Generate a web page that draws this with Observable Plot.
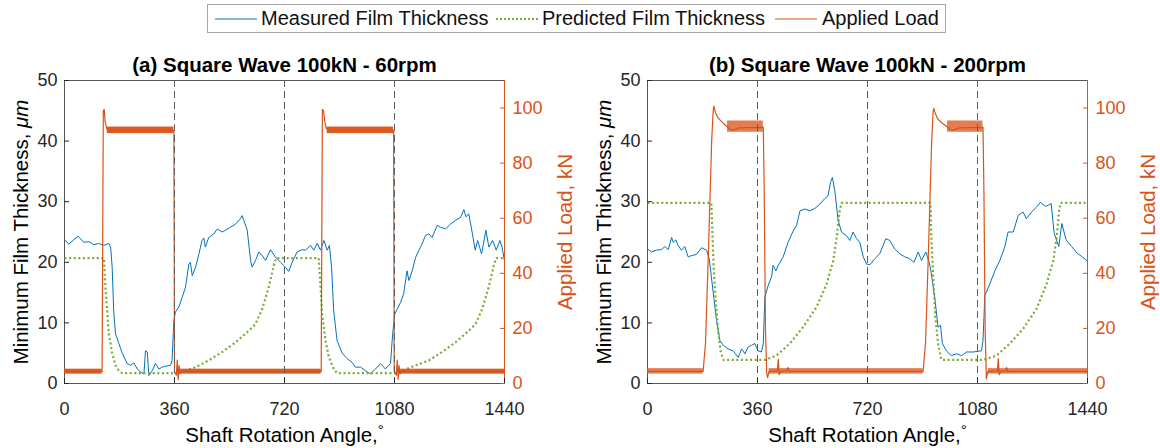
<!DOCTYPE html>
<html><head><meta charset="utf-8">
<script src="https://cdn.jsdelivr.net/npm/d3@7"></script>
<script src="https://cdn.jsdelivr.net/npm/@observablehq/plot@0.6"></script>
<style>
body{margin:0;background:#fff;}
#wrap{position:relative;width:1160px;height:448px;overflow:hidden;font-family:"Liberation Sans",Arial,Helvetica,sans-serif;background:#fff;}
.panel{position:absolute;top:0;}
#legend{position:absolute;left:207px;top:4px;width:737px;height:27px;border:1px solid #a6a6a6;background:#fff;z-index:2;font-size:20px;color:#111;}
#legend .it{position:absolute;top:0;height:27px;line-height:27px;white-space:nowrap;}
#legend svg{position:absolute;top:9px;}
</style></head><body>
<div id="wrap"><div id="legend"></div><div id="pa" class="panel" style="left:0"></div><div id="pb" class="panel" style="left:580px"></div></div>
<script>
// ---------- data ----------
const xTicks = [0, 360, 720, 1080, 1440];
const yTicks = [0, 10, 20, 30, 40, 50];
const loadTicks = [0, 20, 40, 60, 80, 100];
const dashedAngles = [360, 720, 1080];
const seriesNames = ["Measured Film Thickness", "Predicted Film Thickness", "Applied Load"];
const titles = ["(a) Square Wave 100kN - 60rpm", "(b) Square Wave 100kN - 200rpm"];

// panel (a): [angle (deg), film thickness (um)]
const measuredA = [[0,23.7],[14,23.0],[30,23.7],[45,24.3],[63,23.3],[80,23.4],[96,22.9],[112,23.1],[129,22.8],[145,23.1],[151,22.5],[156,19.2],[161,12.0],[167,8.2],[178,6.6],[189,5.0],[205,3.3],[216,3.0],[227,3.4],[238,2.4],[249,1.9],[260,1.6],[265,5.4],[271,5.2],[276,1.3],[287,2.1],[298,3.3],[309,2.4],[325,2.8],[347,3.0],[352,3.8],[358,10.4],[363,11.8],[374,12.6],[385,14.2],[396,15.9],[407,19.7],[412,20.0],[418,17.8],[429,19.2],[440,21.4],[450,23.6],[456,24.0],[461,22.5],[472,24.1],[489,24.7],[500,25.5],[516,25.0],[527,25.3],[543,25.8],[560,26.3],[576,27.2],[581,27.7],[587,26.9],[598,25.3],[609,20.3],[614,19.2],[625,20.3],[636,21.7],[647,21.1],[658,20.3],[674,22.1],[690,20.9],[707,20.0],[723,19.2],[734,18.5],[745,20.0],[761,21.7],[778,22.1],[789,22.0],[805,22.8],[816,22.0],[827,23.1],[838,22.0],[849,23.6],[860,22.0],[867,22.8],[874,19.2],[881,12.0],[892,7.1],[909,5.0],[925,4.1],[941,3.5],[952,2.7],[969,2.7],[985,2.1],[1001,1.6],[1018,2.4],[1034,3.3],[1050,2.4],[1067,3.3],[1074,8.2],[1081,11.5],[1089,12.3],[1100,13.4],[1110,14.8],[1121,18.6],[1127,17.0],[1138,18.6],[1149,20.8],[1160,22.0],[1170,23.0],[1181,24.4],[1192,24.7],[1203,24.1],[1220,26.1],[1230,25.8],[1247,25.5],[1263,26.3],[1279,26.9],[1296,27.4],[1307,28.7],[1314,27.5],[1323,28.0],[1335,24.7],[1344,22.0],[1352,23.6],[1365,21.4],[1379,25.3],[1389,22.5],[1401,23.6],[1413,22.0],[1425,23.6],[1432,22.5],[1440,20.2]];
const predictedA = [[0,20.7],[129,20.7],[134,15.9],[140,11.5],[145,8.2],[156,5.0],[167,3.0],[178,2.1],[189,1.7],[360,1.7],[385,1.9],[429,2.7],[472,3.8],[516,5.2],[560,6.8],[603,8.7],[625,9.8],[647,12.3],[669,16.0],[685,19.5],[693,20.7],[832,20.7],[838,15.9],[843,11.5],[854,7.1],[865,4.4],[881,2.4],[892,1.7],[1080,1.7],[1105,2.1],[1149,3.0],[1192,3.8],[1236,5.2],[1280,6.8],[1323,8.7],[1345,9.8],[1367,12.3],[1389,16.0],[1405,19.5],[1413,20.7],[1440,20.7]];
// [angle, load (kN)] mean trace and noise envelopes [from, to, low, high]
const loadA = [[0,4.3],[123,4.3],[127,99],[130,99.5],[133,95],[138,92.5],[145,91.9],[358,91.9],[360,4.3],[366,3],[369,8.5],[372,1.5],[375,6.5],[378,3.5],[382,4.3],[840,4.3],[844,99.5],[848,99],[852,95],[857,92.5],[864,91.9],[1077,91.9],[1079,4.3],[1086,3],[1089,8.5],[1092,1.5],[1095,6.5],[1098,3.5],[1102,4.3],[1440,4.3]];
const loadBandsA = [[0,123,3.4,5.2],[380,840,3.4,5.2],[1100,1440,3.4,5.2],[140,358,90.7,93.1],[860,1077,90.7,93.1]];

// panel (b)
const measuredB = [[0,22.2],[13,21.7],[29,22.0],[46,22.1],[57,22.6],[68,22.1],[79,24.1],[84,23.3],[93,23.7],[100,22.8],[111,22.0],[122,22.6],[133,20.9],[144,21.1],[160,21.3],[177,22.4],[193,22.0],[202,20.6],[209,17.6],[217,14.2],[226,10.4],[237,7.1],[248,6.3],[264,5.7],[280,5.4],[297,4.3],[308,5.7],[319,4.9],[329,6.0],[340,6.3],[351,6.6],[362,5.4],[373,5.2],[379,6.6],[384,14.2],[395,16.2],[406,17.6],[411,19.5],[420,18.6],[428,19.5],[444,20.9],[460,23.3],[477,25.2],[488,26.1],[499,28.5],[515,28.8],[531,28.5],[548,28.9],[564,29.6],[580,30.5],[591,31.0],[599,33.2],[605,34.0],[613,31.8],[624,26.9],[635,25.0],[651,24.4],[662,23.6],[673,25.0],[684,23.9],[695,23.3],[706,20.9],[717,19.7],[728,19.6],[744,20.6],[760,21.4],[780,23.9],[793,23.6],[809,22.2],[826,21.4],[842,20.9],[858,20.6],[872,20.0],[886,21.7],[897,20.3],[911,21.7],[922,20.0],[929,18.1],[940,14.2],[951,9.3],[959,9.6],[965,6.6],[978,5.4],[995,4.6],[1011,4.9],[1028,4.6],[1044,5.2],[1066,5.2],[1093,5.4],[1098,7.1],[1104,14.5],[1120,16.4],[1137,18.6],[1153,20.3],[1169,22.5],[1180,25.0],[1197,25.0],[1213,27.7],[1229,28.3],[1240,27.2],[1257,28.3],[1273,29.1],[1286,29.9],[1303,29.2],[1321,29.7],[1331,24.8],[1346,22.6],[1356,26.4],[1370,23.7],[1388,22.6],[1406,21.5],[1420,21.0],[1440,20.2]];
const predictedB = [[0,29.8],[209,29.8],[213,24.1],[217,18.6],[224,13.1],[231,8.7],[239,5.4],[248,3.9],[384,3.9],[422,4.6],[466,6.6],[509,9.3],[553,12.6],[586,16.4],[608,20.3],[619,24.1],[629,28.5],[635,29.8],[926,29.8],[929,24.1],[935,17.6],[942,11.0],[951,6.6],[962,3.9],[1100,3.9],[1142,4.6],[1186,6.6],[1229,9.0],[1273,12.3],[1306,16.4],[1328,20.3],[1339,24.1],[1347,28.5],[1352,29.8],[1440,29.8]];
const loadB = [[0,4.4],[182,4.4],[190,15],[200,50],[210,88],[215,99],[217,100.7],[222,98.5],[230,96.5],[245,94.8],[259,93.4],[270,92.3],[280,92],[300,92.8],[379,93],[382,70],[386,20],[390,4],[393,2.1],[398,4.5],[403,4.4],[425,4.6],[428,8.8],[431,3.2],[436,4.4],[456,4.6],[460,5.8],[464,4.2],[470,4.4],[902,4.4],[910,15],[920,50],[930,88],[935,99],[937,99.9],[942,98],[950,96],[965,94.5],[979,93.3],[990,92.3],[1000,92],[1020,92.8],[1098,93],[1101,70],[1105,20],[1109,1.7],[1114,4.5],[1118,4.4],[1145,4.6],[1148,9],[1151,3.2],[1156,4.4],[1172,4.6],[1175,5.8],[1179,4.2],[1185,4.4],[1440,4.4]];
const loadBandsB = [[0,182,3.4,5.4],[398,902,3.4,5.4],[1116,1440,3.4,5.4],[262,379,91.2,95.3],[982,1098,91.2,95.3]];

// ---------- styling ----------
const blue = "#0072BD", green = "#77AC30", orange = "#D95319", ink = "#262626";
const K = 50 / 110; // left-axis units per kN (right axis 0..110 kN)
const FONT = '"Liberation Sans", Arial, Helvetica, sans-serif';
const yLabel = "Minimum Film Thickness, μm", rLabel = "Applied Load, kN", xLabel = "Shaft Rotation Angle,°";

function panel(title, measured, predicted, load, bands, mL, mR, bandOpacity) {
  const loadPts = load.map(([a, v]) => ({a, v: v * K}));
  const bandPts = bands.map(([a1, a2, lo, hi]) => ({a1, a2, lo: lo * K, hi: hi * K}));
  const svg = Plot.plot({
    width: 580, height: 448, marginTop: 80, marginBottom: 65, marginLeft: mL, marginRight: mR,
    style: {fontFamily: FONT, fontSize: "18px", color: ink, background: "transparent", overflow: "visible"},
    x: {domain: [xTicks[0], xTicks[xTicks.length - 1]]},
    y: {domain: [yTicks[0], yTicks[yTicks.length - 1]]},
    marks: [
      Plot.frame({stroke: "#555", strokeWidth: 1}),
      Plot.line(measured, {x: d => d[0], y: d => d[1], stroke: blue, strokeWidth: 1}),
      Plot.line(predicted, {x: d => d[0], y: d => d[1], stroke: green, strokeWidth: 2.2, strokeDasharray: "2,2.6", strokeLinecap: "butt", strokeLinejoin: "miter"}),
      Plot.rect(bandPts, {x1: "a1", x2: "a2", y1: "lo", y2: "hi", fill: orange, fillOpacity: bandOpacity}),
      Plot.line(loadPts, {x: "a", y: "v", stroke: orange, strokeWidth: 1.2}),
      Plot.ruleX(dashedAngles, {stroke: "#5e5e5e", strokeWidth: 1, strokeDasharray: "7,4"}),
      Plot.ruleX([xTicks[xTicks.length - 1]], {stroke: orange, strokeWidth: 1}),
      Plot.axisX(xTicks, {tickSize: -5, tickPadding: 24, fontSize: 18, label: null, color: ink, tickFormat: d => String(d)}),
      Plot.axisY(yTicks, {anchor: "left", tickSize: -5, tickPadding: 12, fontSize: 18, label: null, color: ink}),
      Plot.axisY(loadTicks.map(v => v * K), {anchor: "right", tickSize: -5, tickPadding: 13, fontSize: 18, label: null, color: orange, tickFormat: d => String(Math.round(d / K))}),
      Plot.text([title], {frameAnchor: "top", textAnchor: "middle", lineAnchor: "bottom", dy: -9, fontSize: 20.5, fontWeight: "bold", fill: "#000"}),
      Plot.text([yLabel], {frameAnchor: "left", textAnchor: "middle", rotate: -90, dx: -43, fontSize: 20.5, fill: "#000"}),
      Plot.text([rLabel], {frameAnchor: "right", textAnchor: "middle", rotate: -90, dx: 61, fontSize: 20.5, fill: orange}),
      Plot.text([xLabel], {frameAnchor: "bottom", textAnchor: "middle", dy: 58, fontSize: 20.5, fill: "#000"})
    ]
  });
  // italic micro-metre and superscript degree
  d3.select(svg).selectAll("text").each(function () {
    const t = this.textContent;
    if (t === yLabel) {
      this.textContent = "Minimum Film Thickness, ";
      d3.select(this).append("tspan").attr("font-style", "italic").text("μm");
    } else if (t === xLabel) {
      this.textContent = "Shaft Rotation Angle,";
      d3.select(this).append("tspan").attr("dy", "-0.45em").attr("font-size", "15px").text("°");
    }
  });
  return svg;
}

document.getElementById("pa").appendChild(panel(titles[0], measuredA, predictedA, loadA, loadBandsA, 64, 76, 0.95));
document.getElementById("pb").appendChild(panel(titles[1], measuredB, predictedB, loadB, loadBandsB, 67, 73, 0.75));

// legend
const legend = d3.select("#legend");
const legendItems = [
  {name: seriesNames[0], color: blue, dash: null, width: 1.2, sx: 7, tx: 53},
  {name: seriesNames[1], color: green, dash: "2,2", width: 2, sx: 288, tx: 334},
  {name: seriesNames[2], color: orange, dash: null, width: 1.2, sx: 567, tx: 614}
];
legendItems.forEach(it => {
  const s = legend.append("svg").attr("width", 42).attr("height", 10).style("left", it.sx + "px");
  s.append("line").attr("x1", 0).attr("x2", 42).attr("y1", 5).attr("y2", 5)
    .attr("stroke", it.color).attr("stroke-width", it.width).attr("stroke-dasharray", it.dash);
  legend.append("div").attr("class", "it").style("left", it.tx + "px").text(it.name);
});
</script>
</body></html>
